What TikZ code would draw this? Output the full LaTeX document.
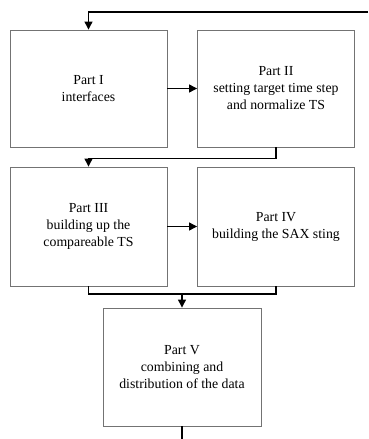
\documentclass[tikz,border=0pt]{standalone}
\usepackage{fontspec}
\setmainfont{Liberation Serif}
\usetikzlibrary{arrows.meta}
\begin{document}
\begin{tikzpicture}[x=1pt,y=-1pt,
 part/.style={draw=black!55,line width=0.9pt,minimum width=157pt,minimum height=117pt,
 align=center,font=\fontsize{13.8}{17}\selectfont,inner sep=2pt},
 flow/.style={draw=black,line width=1.2pt},
 arr/.style={flow,-{Triangle[length=8pt,width=8pt]}}]
	\useasboundingbox (0,0) rectangle (368,439);

	\node[part] (p1) at (88.5,88.5) {Part I\\interfaces};
	\node[part] (p2) at (276,88.5) {Part II\\setting target time step\\and normalize TS};
	\node[part,minimum height=119pt] (p3) at (88.5,226.5) {Part III\\building up the\\compareable TS};
	\node[part,minimum height=119pt] (p4) at (276,226.5) {Part IV\\building the SAX sting};
	\node[part,minimum width=158pt,minimum height=118pt] (p5) at (182,367) {Part V\\combining and\\distribution of the data};

	\coordinate (in) at (368,12);
	\coordinate (j) at (182,294);
	\coordinate (out) at (182,439);

	\draw[arr] (in) -| (p1.north);
	\draw[arr] (p1) -- (p2);
	\draw[arr] (p2.south) -- ++(0,11) -| (p3.north);
	\draw[arr] (p3) -- (p4);
	\draw[flow] (p3.south) |- (j) -| (p4.south);
	\draw[arr] (j) -- (p5.north);
	\draw[flow] (p5.south) -- (out);
\end{tikzpicture}
\end{document}
